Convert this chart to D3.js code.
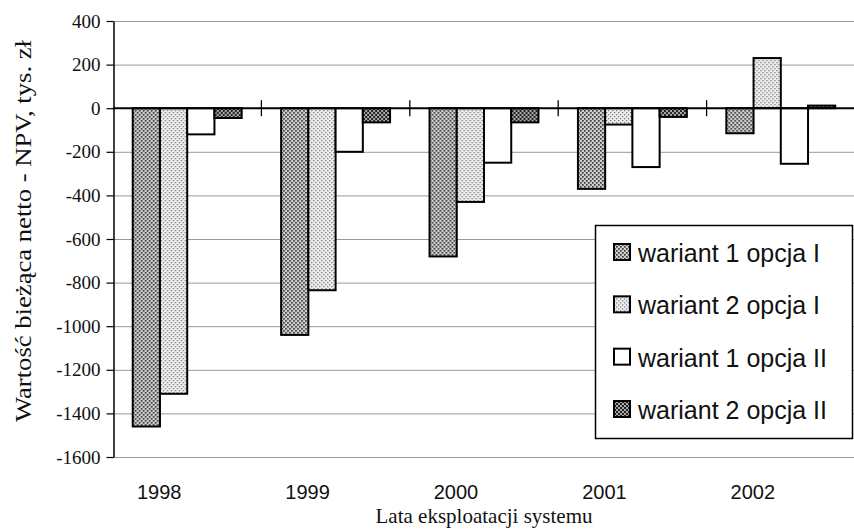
<html>
<head>
  <script src="https://d3js.org/d3.v7.min.js"></script>
  <style>
    body { margin: 0; background: #fff; }
  </style>
</head>
<body>
  <svg id="chart" width="854" height="530" xmlns="http://www.w3.org/2000/svg">
    <defs>
      <pattern id="p_w1o1" width="4" height="4" patternUnits="userSpaceOnUse">
        <rect width="4" height="4" fill="#d0d0d0"></rect>
        <rect x="0" y="0" width="1.7" height="1.7" fill="#3a3a3a"></rect>
        <rect x="2" y="2" width="1.7" height="1.7" fill="#3a3a3a"></rect>
      </pattern>
      <pattern id="p_w2o1" width="4" height="4" patternUnits="userSpaceOnUse">
        <rect width="4" height="4" fill="#f0f0f0"></rect>
        <rect x="0" y="0" width="1.3" height="1.3" fill="#777"></rect>
        <rect x="2" y="2" width="1.3" height="1.3" fill="#777"></rect>
      </pattern>
      <pattern id="p_w2o2" width="4" height="4" patternUnits="userSpaceOnUse">
        <rect width="4" height="4" fill="#aaa"></rect>
        <rect x="0" y="0" width="2" height="2" fill="#222"></rect>
        <rect x="2" y="2" width="2" height="2" fill="#222"></rect>
      </pattern>
    </defs>
  </svg>
  <script>
    var years = ["1998", "1999", "2000", "2001", "2002"];
    var w1o1 = [-1460, -1040, -680, -370, -115];
    var w2o1 = [-1310, -835, -430, -75, 230];
    var w1o2 = [-120, -200, -250, -270, -255];
    var w2o2 = [-45, -65, -65, -40, 12];
    var seriesNames = ["wariant 1 opcja I", "wariant 2 opcja I", "wariant 1 opcja II", "wariant 2 opcja II"];
    var yTicks = [400, 200, 0, -200, -400, -600, -800, -1000, -1200, -1400, -1600];

    var series = [w1o1, w2o1, w1o2, w2o2];
    var fills = ["url(#p_w1o1)", "url(#p_w2o1)", "#fff", "url(#p_w2o2)"];
    var serif = "'Liberation Serif', 'Times New Roman', serif";
    var sans = "'Liberation Sans', Arial, sans-serif";

    var svg = d3.select("#chart");

    var x = d3.scaleBand()
              .domain(years)
              .range([113, 855])
              .paddingInner(0.266)
              .paddingOuter(0.133);
    var x1 = d3.scaleBand()
               .domain(d3.range(series.length))
               .range([0, x.bandwidth()]);
    var y = d3.scaleLinear()
              .domain([-1600, 400])
              .range([457, 21]);
    var step = x.step();

    // gridlines
    svg.append("g")
      .selectAll("line")
      .data(yTicks.filter(function(d) { return d !== 0; }))
      .enter().append("line")
      .attr("x1", 113).attr("x2", 854)
      .attr("y1", function(d) { return y(d) + 0.5; })
      .attr("y2", function(d) { return y(d) + 0.5; })
      .attr("stroke", "#999")
      .attr("stroke-width", 1);

    // y axis
    var yAxis = d3.axisLeft(y)
                  .tickValues(yTicks)
                  .tickFormat(function(d) { return String(d); })
                  .tickSize(7).tickSizeOuter(0).tickPadding(6);
    var ga = svg.append("g")
      .attr("transform", "translate(113.5,0)")
      .call(yAxis)
      .attr("font-family", serif)
      .attr("font-size", 19);
    ga.select(".domain").attr("stroke", "#000").attr("stroke-width", 1.5);
    ga.selectAll(".tick line").attr("stroke", "#000").attr("stroke-width", 1.2);
    ga.selectAll(".tick text").attr("fill", "#111");

    // bars
    var groups = svg.append("g")
      .selectAll("g")
      .data(years)
      .enter().append("g")
      .attr("transform", function(d) { return "translate(" + x(d) + ",0)"; });

    groups.selectAll("rect")
      .data(function(d, i) { return series.map(function(s, k) { return { k: k, v: s[i] }; }); })
      .enter().append("rect")
      .attr("x", function(d) { return x1(d.k); })
      .attr("width", x1.bandwidth())
      .attr("y", function(d) { return Math.min(y(d.v), y(0)); })
      .attr("height", function(d) { return Math.abs(y(d.v) - y(0)); })
      .attr("fill", function(d) { return fills[d.k]; })
      .attr("stroke", "#000")
      .attr("stroke-width", 2);

    // zero line with category ticks
    svg.append("line")
      .attr("x1", 113).attr("x2", 854)
      .attr("y1", y(0)).attr("y2", y(0))
      .attr("stroke", "#000").attr("stroke-width", 2);
    svg.append("g")
      .selectAll("line")
      .data(years.slice(1))
      .enter().append("line")
      .attr("x1", function(d) { return x(d) - (step - x.bandwidth()) / 2; })
      .attr("x2", function(d) { return x(d) - (step - x.bandwidth()) / 2; })
      .attr("y1", y(0) - 8).attr("y2", y(0) + 8)
      .attr("stroke", "#000").attr("stroke-width", 1.3);

    // category labels
    svg.append("g")
      .selectAll("text")
      .data(years)
      .enter().append("text")
      .attr("x", function(d) { return x(d) + x.bandwidth() / 2 - 28; })
      .attr("y", 499)
      .attr("text-anchor", "middle")
      .style("font-family", sans)
      .style("font-size", "20px")
      .attr("fill", "#111")
      .text(function(d) { return d; });

    // axis titles
    svg.append("text")
      .attr("x", 484).attr("y", 523)
      .attr("text-anchor", "middle")
      .style("font-family", serif)
      .style("font-size", "21px")
      .attr("fill", "#111")
      .text("Lata eksploatacji systemu");

    svg.append("text")
      .attr("transform", "translate(31,231) rotate(-90)")
      .attr("text-anchor", "middle")
      .attr("textLength", 382)
      .attr("lengthAdjust", "spacingAndGlyphs")
      .style("font-family", serif)
      .style("font-size", "23px")
      .attr("fill", "#111")
      .text("Wartość bieżąca netto - NPV, tys. zł");

    // legend
    var lg = svg.append("g");
    lg.append("rect")
      .attr("x", 595.5).attr("y", 225.5)
      .attr("width", 257).attr("height", 213)
      .attr("fill", "#fff").attr("stroke", "#000").attr("stroke-width", 1.5);
    var rowY = d3.scalePoint().domain(d3.range(seriesNames.length)).range([262, 419]);
    var items = lg.selectAll("g.item")
      .data(seriesNames)
      .enter().append("g")
      .attr("class", "item")
      .attr("transform", function(d, i) { return "translate(0," + rowY(i) + ")"; });
    items.append("rect")
      .attr("x", 614).attr("y", -18)
      .attr("width", 16).attr("height", 16)
      .attr("fill", function(d, i) { return fills[i]; })
      .attr("stroke", "#000").attr("stroke-width", 2);
    items.append("text")
      .attr("x", 638).attr("y", 0)
      .style("font-family", sans)
      .style("font-size", "25px")
      .attr("fill", "#111")
      .text(function(d) { return d; });
  </script>
</body>
</html>
